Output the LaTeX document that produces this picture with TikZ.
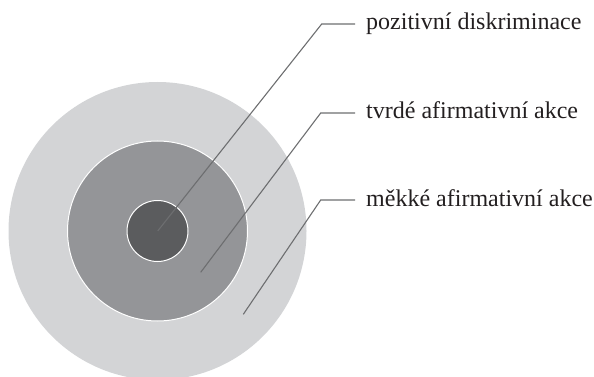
\documentclass[tikz,border=0pt]{standalone}
\usepackage{fontspec}
\setmainfont{Liberation Serif}
\definecolor{ringouter}{HTML}{D3D4D6}
\definecolor{ringmiddle}{HTML}{949598}
\definecolor{ringinner}{HTML}{5B5C5E}
\definecolor{leader}{HTML}{6D6E70}
\definecolor{labeltext}{HTML}{231F20}
\tikzset{
  ring/.style={circle, inner sep=0pt, minimum size=#1},
  leaderline/.style={draw=leader, line width=1.1pt},
  label/.style={anchor=base west, inner sep=0pt, text=labeltext, font=\fontsize{24}{28}\selectfont},
}
\begin{document}
\begin{tikzpicture}[x=1pt, y=-1pt]
  \useasboundingbox (0,0) rectangle (594,377);
  \begin{scope}
    \clip (0,0) rectangle (594,377);
    \node[ring=298pt, fill=ringouter] (outer) at (157.5,231) {};
  \end{scope}
  \node[ring=180pt, fill=ringmiddle, draw=white, line width=1pt] (middle) at (157.5,231) {};
  \node[ring=61pt, fill=ringinner, draw=white, line width=1pt] (inner) at (157.5,231) {};

  \node[label] (l1) at (366,30) {pozitivní diskriminace};
  \node[label] (l2) at (366,119) {tvrdé afirmativní akce};
  \node[label] (l3) at (366,206) {měkké afirmativní akce};

  \coordinate (p1) at (157.7,231);
  \coordinate (p2) at (200.7,272.3);
  \coordinate (p3) at (243.3,314.3);
  \coordinate (e1) at (321.7,24);
  \coordinate (e2) at (320.7,113);
  \coordinate (e3) at (320.7,200);

  \draw[leaderline] (p1) -- (e1) -- ([xshift=-11pt]l1.west |- e1);
  \draw[leaderline] (p2) -- (e2) -- ([xshift=-11pt]l2.west |- e2);
  \draw[leaderline] (p3) -- (e3) -- ([xshift=-11pt]l3.west |- e3);
\end{tikzpicture}
\end{document}
